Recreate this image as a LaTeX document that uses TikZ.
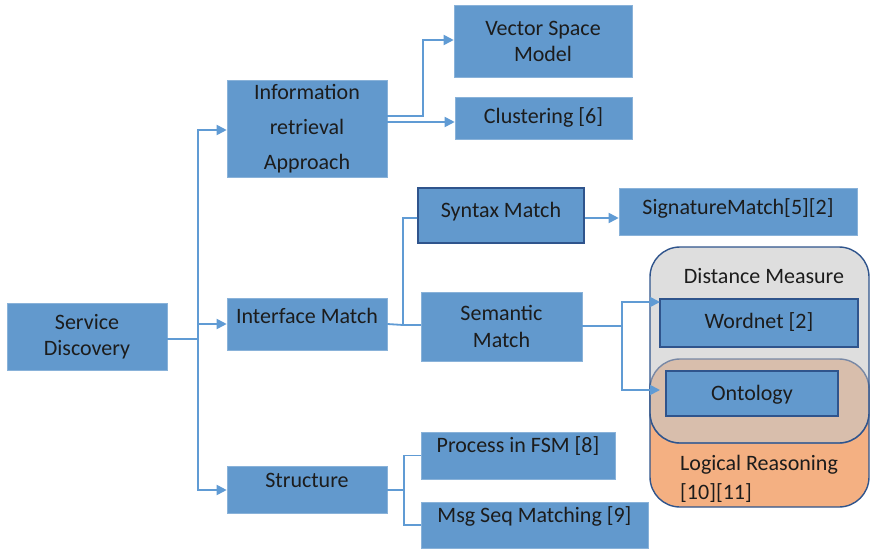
\documentclass[tikz,border=0pt]{standalone}
\usepackage{fontspec}
\setmainfont{Carlito}
\usetikzlibrary{arrows.meta}

\definecolor{boxblue}{RGB}{98,153,205}
\definecolor{edgeblue}{RGB}{47,84,140}
\definecolor{linkblue}{RGB}{96,155,212}
\definecolor{panelgray}{RGB}{222,222,222}
\definecolor{paneltan}{RGB}{216,190,172}
\definecolor{panelorange}{RGB}{244,176,130}
\definecolor{tanedge}{RGB}{120,136,165}
\definecolor{inktext}{RGB}{28,28,28}

\tikzset{
  box/.style={rectangle, fill=boxblue, draw=boxblue!75!white, line width=0.6pt,
    inner sep=0pt, align=center, text=inktext,
    font=\fontsize{22}{26.5}\selectfont},
  darkbox/.style={box, draw=edgeblue, line width=1.6pt},
  lift/.style={text height=15pt, text depth=#1},
  link/.style={draw=linkblue, line width=1.8pt},
  arr/.style={link, -{Triangle[length=10pt,width=10pt]}},
  paneltext/.style={text=inktext, font=\fontsize{22}{29}\selectfont, inner sep=0pt},
}

\begin{document}
\begin{tikzpicture}[x=1pt, y=-1pt]
\useasboundingbox (0,0) rectangle (871,551);

% grouped panel on the right: distance measure over logical reasoning
\draw[fill=panelorange, draw=edgeblue, line width=1.4pt, rounded corners=30pt]
  (650,359) rectangle (869,507);
\fill[panelgray, rounded corners=30pt] (650,247) rectangle (869,443);
\draw[fill=paneltan, draw=tanedge, line width=1.4pt, rounded corners=30pt]
  (650,359) rectangle (869,443);
\draw[edgeblue, line width=1.4pt, rounded corners=30pt] (650,247) rectangle (869,443);

\node[paneltext] (dm) at (764,276) {Distance Measure};
\node[paneltext, anchor=west, align=left] (lr) at (680,478.5) {Logical Reasoning\\{}[10][11]};

% boxes
\node[box, minimum width=160pt, minimum height=67pt] (sd) at (87,336.5) {Service\\Discovery};
\node[box, minimum width=160pt, minimum height=97pt,
      font=\fontsize{22}{35}\selectfont] (ir) at (307,128.5) {Information\\retrieval\\Approach};
\node[box, minimum width=178pt, minimum height=72pt] (vsm) at (543,41.5) {Vector Space\\Model};
\node[box, minimum width=177pt, minimum height=42pt, lift=4pt] (clu) at (543.5,118) {Clustering [6]};
\node[darkbox, minimum width=166pt, minimum height=55pt, lift=12pt] (syn) at (501,215.5) {Syntax Match};
\node[box, minimum width=238pt, minimum height=47pt, lift=10pt] (sig) at (738,211.5) {SignatureMatch[5][2]};
\node[box, minimum width=160pt, minimum height=52pt, lift=16pt] (im) at (307,324) {Interface Match};
\node[box, minimum width=161pt, minimum height=69pt] (sem) at (501.5,326.5) {Semantic\\Match};
\node[darkbox, minimum width=198pt, minimum height=48pt, lift=4pt] (wn) at (759,323) {Wordnet [2]};
\node[darkbox, minimum width=172pt, minimum height=45pt, lift=2pt] (on) at (752,393.5) {Ontology};
\node[box, minimum width=160pt, minimum height=47pt, lift=20pt] (st) at (307,490) {Structure};
\node[box, minimum width=194pt, minimum height=47pt, lift=22pt] (fsm) at (518,455.5) {Process in FSM [8]};
\node[box, minimum width=227pt, minimum height=46pt, lift=20pt] (msg) at (534.5,525) {Msg Seq Matching [9]};

% connectors from the root
\coordinate (trunk) at (198,339);
\draw[link] ([yshift=-2.5pt]sd.east) -- (trunk);
\draw[arr] (trunk) |- ([yshift=-1.5pt]ir.west);
\draw[arr] (trunk) |- (im.west);
\draw[arr] (trunk) |- (st.west);

% information retrieval branch
\coordinate (irbend) at (423,116);
\draw[arr] ([yshift=12.5pt]ir.east) -- (irbend) |- ([yshift=1.5pt]vsm.west);
\draw[arr] ([yshift=6.5pt]ir.east) -- ([yshift=6.5pt]ir.east -| clu.west);

% interface match branch
\coordinate (imfork) at (403,325);
\draw[link] (im.east) -- (imfork) |- ([yshift=-2.5pt]syn.west);
\draw[link] (imfork) -- (imfork -| sem.west);
\draw[arr] ([yshift=-2.5pt]syn.east) -- ([yshift=-2.5pt]syn.east -| sig.west);

% semantic match branch
\coordinate (semfork) at (622,326);
\coordinate (wnin) at (660,302);
\coordinate (onin) at (660,390);
\draw[link] ([yshift=0.5pt]sem.east) -- (semfork);
\draw[arr] (semfork) |- (wnin);
\draw[arr] (semfork) |- (onin);

% structure branch
\coordinate (stfork) at (404,490);
\draw[link] (st.east) -- (stfork);
\draw[link] (stfork) |- (fsm.west);
\draw[link] (stfork) |- (msg.west);
\end{tikzpicture}
\end{document}
